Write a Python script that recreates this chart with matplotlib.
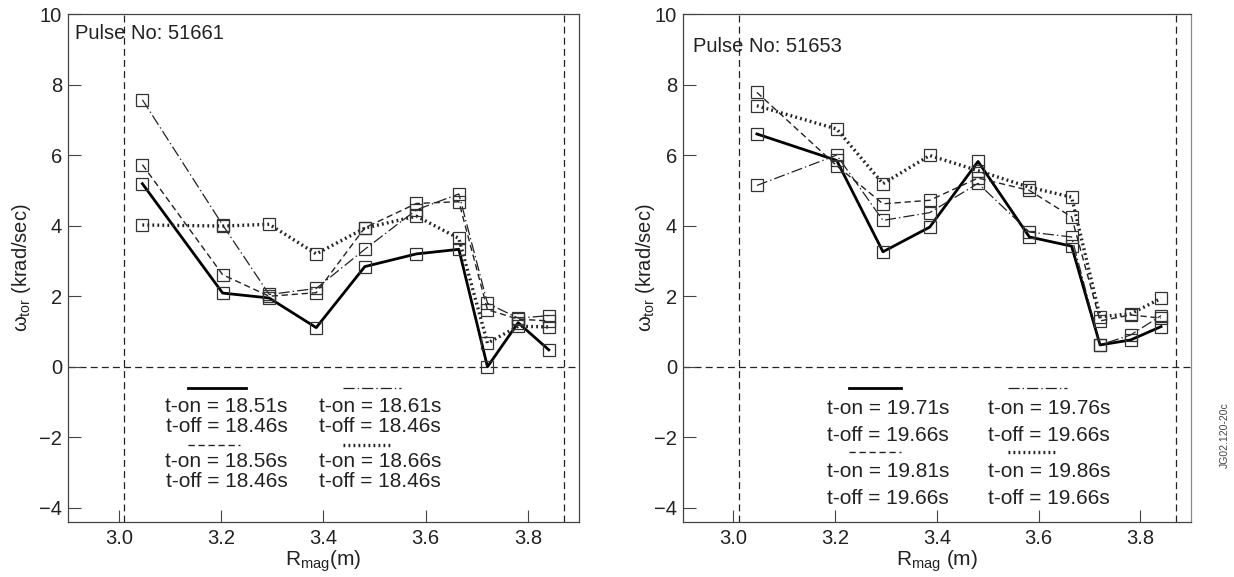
import matplotlib
matplotlib.use("Agg")
import matplotlib.pyplot as plt
from matplotlib.lines import Line2D

plt.rcParams['font.family'] = ['Liberation Sans', 'DejaVu Sans']
plt.rcParams['mathtext.fontset'] = 'custom'
plt.rcParams['mathtext.rm'] = 'Liberation Sans'
plt.rcParams['mathtext.it'] = 'Liberation Sans:italic'
plt.rcParams['lines.scale_dashes'] = False

# major radius of the CXRS channels (m)
R_mag = [3.046, 3.203, 3.294, 3.386, 3.481, 3.582, 3.665, 3.721, 3.781, 3.841]

# pulse 51661, omega_tor (krad/sec)
p51661_on1851 = [5.19, 2.09, 1.95, 1.11, 2.84, 3.20, 3.33, 0.00, 1.25, 0.48]
p51661_on1856 = [5.73, 2.61, 2.00, 2.10, 3.94, 4.63, 4.68, 1.62, 1.35, 1.30]
p51661_on1861 = [7.57, 4.02, 2.05, 2.22, 3.33, 4.45, 4.90, 1.80, 1.38, 1.45]
p51661_on1866 = [4.02, 3.99, 4.04, 3.20, 3.93, 4.27, 3.64, 0.67, 1.15, 1.13]

# pulse 51653
p51653_on1971 = [6.60, 5.85, 3.26, 3.96, 5.82, 3.68, 3.42, 0.62, 0.76, 1.14]
p51653_on1981 = [7.78, 5.70, 4.62, 4.72, 5.35, 5.00, 4.25, 1.30, 1.47, 1.38]
p51653_on1976 = [5.14, 6.00, 4.15, 4.37, 5.20, 3.82, 3.68, 0.62, 0.90, 1.45]
p51653_on1986 = [7.40, 6.74, 5.19, 5.99, 5.56, 5.09, 4.81, 1.42, 1.50, 1.94]

# plasma boundaries (m)
R_in = 3.01
R_out = 3.87

# line styles: solid, dashed, dash-dot, dotted
STYLES = {
    "solid": dict(color="black", lw=2.0, linestyle="-"),
    "dashed": dict(color="#222", lw=1.0, dashes=[4.5, 2.7]),
    "dashdot": dict(color="#222", lw=0.9, dashes=[8, 2.2, 1, 2.2]),
    "dotted": dict(color="#222", lw=2.4, dashes=[1.3, 2.3]),
}


def draw_panel(ax, series, pulse, labels, leg_pos, pulse_pos, xlabel, ylab_x):
    for key, vals in series:
        ax.plot(R_mag, vals, **STYLES[key], zorder=3)
        ax.plot(R_mag, vals, linestyle="none", marker="s", ms=8, mfc="none",
                mec="#333", mew=0.9, zorder=4)

    ax.axhline(0, color="#222", lw=0.9, dashes=[5, 3], zorder=1)
    ax.axvline(R_in, color="#222", lw=0.9, dashes=[5, 3], zorder=1)
    ax.axvline(R_out, color="#222", lw=0.9, dashes=[5, 3], zorder=1)

    ax.set_xlim(2.9, 3.9)
    ax.set_ylim(-4.4, 10)
    ax.set_xticks([3.0, 3.2, 3.4, 3.6, 3.8])
    ax.set_xticklabels(["3.0", "3.2", "3.4", "3.6", "3.8"])
    ax.set_yticks([-4, -2, 0, 2, 4, 6, 8, 10])
    ax.tick_params(direction="in", length=9, width=0.8, color="#444",
                   labelsize=14.5, labelcolor="#222")
    ax.tick_params(axis="x", pad=5)
    ax.tick_params(axis="y", pad=4)
    for s in ax.spines.values():
        s.set_color("#444")
        s.set_linewidth(0.9)

    ax.set_ylabel("ω$_{\\mathrm{tor}}$ (krad/sec)", fontsize=14.5, color="#222")
    ax.yaxis.set_label_coords(ylab_x, 0.5)
    ax.yaxis.label.set_va("center")
    ax.set_xlabel(xlabel, fontsize=15, color="#222")
    ax.xaxis.set_label_coords(0.5, -0.078)
    ax.xaxis.label.set_va("center")

    ax.text(pulse_pos[0], pulse_pos[1], "Pulse No: " + pulse, transform=ax.transAxes,
            fontsize=14.5, color="#222", va="center", ha="left")

    # hand-made legend: line above two text rows, 2 x 2 blocks
    for (key, lab), (lx0, lx1, ly, tx, ty1, ty2) in zip(labels, leg_pos):
        ax.add_line(Line2D([lx0, lx1], [ly, ly], transform=ax.transAxes,
                           **STYLES[key]))
        ax.text(tx, ty1, lab[0], transform=ax.transAxes, fontsize=15,
                color="#222", ha="center", va="center")
        ax.text(tx, ty2, lab[1], transform=ax.transAxes, fontsize=15,
                color="#222", ha="center", va="center")


fig = plt.figure(figsize=(12.34, 5.77), dpi=100)
ax1 = fig.add_axes([0.0549, 0.0953, 0.4143, 0.8804])
ax2 = fig.add_axes([0.5532, 0.0953, 0.4120, 0.8804])

draw_panel(
    ax1,
    [("solid", p51661_on1851), ("dashed", p51661_on1856),
     ("dashdot", p51661_on1861), ("dotted", p51661_on1866)],
    "51661",
    [("solid", ("t-on = 18.51s", "t-off = 18.46s")),
     ("dashed", ("t-on = 18.56s", "t-off = 18.46s")),
     ("dashdot", ("t-on = 18.61s", "t-off = 18.46s")),
     ("dotted", ("t-on = 18.66s", "t-off = 18.46s"))],
    [(0.2355, 0.3481, 0.2632, 0.3106, 0.2283, 0.1890),
     (0.2355, 0.3372, 0.1516, 0.3106, 0.1187, 0.0793),
     (0.5378, 0.6518, 0.2632, 0.6108, 0.2283, 0.1890),
     (0.5378, 0.6330, 0.1516, 0.6108, 0.1187, 0.0793)],
    (0.0143, 0.9626),
    "R$_{\\mathrm{mag}}$(m)",
    -0.091,
)

draw_panel(
    ax2,
    [("solid", p51653_on1971), ("dashed", p51653_on1981),
     ("dashdot", p51653_on1976), ("dotted", p51653_on1986)],
    "51653",
    [("solid", ("t-on = 19.71s", "t-off = 19.66s")),
     ("dashed", ("t-on = 19.81s", "t-off = 19.66s")),
     ("dashdot", ("t-on = 19.76s", "t-off = 19.66s")),
     ("dotted", ("t-on = 19.86s", "t-off = 19.66s"))],
    [(0.3278, 0.4289, 0.2632, 0.4045, 0.2238, 0.1699),
     (0.3278, 0.4289, 0.1378, 0.4045, 0.1004, 0.0453),
     (0.6398, 0.7558, 0.2632, 0.7200, 0.2238, 0.1699),
     (0.6398, 0.7362, 0.1378, 0.7200, 0.1004, 0.0453)],
    (0.0209, 0.9357),
    "R$_{\\mathrm{mag}}$ (m)",
    -0.074,
)
ax2.spines["right"].set_color("#888")

fig.text(0.9927, 0.2452, "JG02.120-20c", rotation=90, fontsize=7.5,
         color="#444", ha="center", va="center")

fig.savefig("out.png", dpi=100)
